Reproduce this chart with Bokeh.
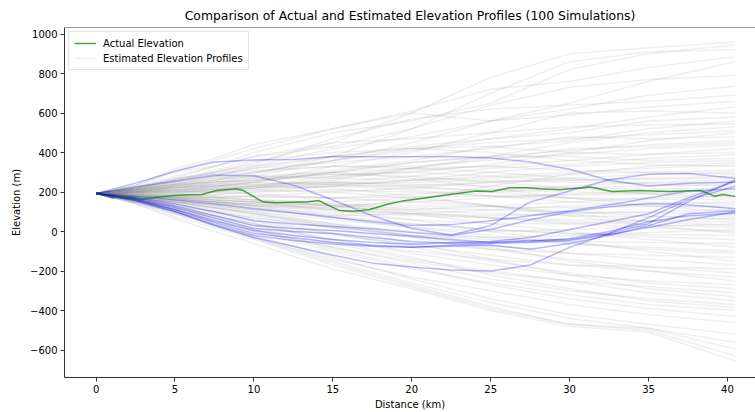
from bokeh.plotting import figure
from bokeh.models import Range1d, FixedTicker, Legend, LegendItem, Span
from bokeh.embed import file_html
from bokeh.resources import INLINE

# ---------------- data ----------------
# distance grid (km) of the estimated profiles
sim_x = [0, 2.5, 5, 7.5, 10, 15, 20, 25, 30, 35, 40.5]
# estimated elevation profiles (m), upper group
sims_upper = [
    [192, 215, 250, 300, 350, 450, 600, 780, 900, 930, 960],
    [192, 220, 270, 330, 400, 500, 560, 650, 820, 900, 945],
    [192, 205, 230, 260, 290, 380, 520, 700, 860, 910, 920],
    [192, 230, 310, 360, 420, 520, 610, 720, 760, 830, 885],
    [192, 210, 240, 280, 330, 420, 480, 560, 650, 760, 860],
    [192, 225, 280, 330, 380, 430, 520, 640, 730, 770, 790],
    [192, 200, 220, 250, 280, 360, 450, 560, 620, 690, 735],
    [192, 215, 260, 300, 340, 470, 570, 620, 640, 660, 690],
    [192, 235, 320, 370, 440, 520, 600, 560, 590, 630, 660],
    [192, 210, 240, 270, 300, 360, 410, 470, 520, 580, 630],
    [192, 200, 210, 230, 250, 330, 400, 500, 600, 610, 600],
    [192, 220, 265, 300, 330, 380, 430, 470, 500, 560, 580],
    [192, 205, 220, 240, 270, 310, 360, 430, 460, 520, 560],
    [192, 235, 300, 330, 380, 450, 470, 500, 530, 540, 545],
    [192, 200, 200, 215, 230, 260, 320, 380, 450, 500, 530],
    [192, 215, 250, 280, 300, 360, 420, 450, 470, 490, 510],
    [192, 190, 195, 210, 230, 280, 300, 340, 400, 460, 500],
    [192, 225, 270, 290, 320, 350, 380, 420, 480, 470, 480],
    [192, 210, 225, 230, 250, 300, 350, 380, 410, 440, 460],
    [192, 200, 230, 260, 300, 330, 330, 360, 420, 430, 450],
    [192, 215, 240, 250, 260, 280, 320, 370, 390, 420, 440],
    [192, 185, 190, 200, 220, 270, 310, 330, 360, 390, 420],
    [192, 220, 260, 310, 360, 400, 420, 430, 400, 390, 400],
    [192, 205, 220, 230, 240, 250, 280, 320, 340, 370, 390],
    [192, 195, 205, 225, 250, 300, 350, 380, 380, 360, 370],
    [192, 210, 240, 270, 280, 270, 260, 300, 330, 350, 360],
    [192, 180, 175, 185, 200, 230, 260, 280, 300, 320, 340],
    [192, 220, 250, 280, 320, 380, 420, 400, 360, 340, 330],
    [192, 170, 150, 140, 130, 120, 160, 230, 290, 330, 350],
]
# estimated elevation profiles (m), middle group
sims_middle = [
    [192, 200, 210, 215, 220, 240, 260, 270, 290, 300, 310],
    [192, 185, 175, 170, 180, 200, 220, 250, 270, 290, 300],
    [192, 215, 235, 250, 260, 300, 320, 330, 310, 300, 290],
    [192, 200, 195, 200, 210, 230, 230, 250, 260, 270, 280],
    [192, 210, 230, 250, 270, 290, 300, 280, 260, 265, 270],
    [192, 180, 170, 175, 180, 170, 190, 210, 230, 250, 260],
    [192, 205, 215, 225, 230, 240, 250, 260, 250, 245, 250],
    [192, 190, 180, 170, 160, 150, 170, 200, 220, 230, 240],
    [192, 220, 260, 290, 310, 330, 320, 300, 270, 240, 230],
    [192, 195, 200, 210, 220, 250, 240, 230, 220, 215, 220],
    [192, 180, 165, 150, 140, 130, 150, 170, 190, 200, 210],
    [192, 210, 230, 240, 250, 240, 220, 210, 200, 195, 200],
    [192, 195, 190, 180, 175, 170, 175, 180, 185, 190, 190],
    [192, 175, 160, 150, 140, 120, 110, 130, 150, 170, 180],
    [192, 205, 225, 240, 260, 290, 280, 250, 220, 190, 170],
    [192, 190, 185, 190, 200, 210, 200, 180, 170, 165, 160],
    [192, 170, 150, 130, 110, 80, 90, 110, 130, 140, 150],
    [192, 210, 220, 230, 240, 250, 230, 200, 170, 150, 140],
    [192, 185, 175, 160, 150, 140, 130, 125, 120, 125, 130],
    [192, 200, 210, 215, 220, 230, 210, 180, 150, 130, 120],
    [192, 175, 160, 150, 140, 110, 90, 80, 90, 100, 110],
    [192, 215, 240, 260, 280, 300, 270, 220, 170, 130, 100],
    [192, 180, 170, 160, 150, 130, 120, 110, 100, 95, 90],
    [192, 190, 185, 175, 160, 140, 110, 90, 80, 75, 80],
    [192, 175, 155, 140, 120, 90, 60, 40, 40, 55, 70],
    [192, 200, 205, 200, 190, 170, 150, 130, 100, 80, 60],
    [192, 180, 165, 150, 130, 100, 80, 70, 60, 55, 50],
    [192, 170, 140, 120, 100, 60, 20, 0, 10, 25, 40],
    [192, 195, 200, 205, 210, 200, 170, 130, 90, 50, 30],
    [192, 185, 170, 150, 130, 110, 90, 70, 50, 35, 20],
    [192, 160, 130, 100, 70, 20, -20, -30, -20, -5, 10],
    [192, 180, 170, 160, 150, 130, 100, 70, 40, 20, 0],
]
# estimated elevation profiles (m), lower group
sims_lower = [
    [192, 200, 210, 220, 230, 220, 180, 130, 80, 30, -10],
    [192, 175, 150, 130, 110, 70, 40, 10, -10, -15, -20],
    [192, 185, 170, 150, 130, 80, 40, 10, -10, -25, -40],
    [192, 165, 130, 100, 70, 20, -20, -40, -50, -55, -60],
    [192, 190, 180, 170, 160, 130, 90, 40, 0, -40, -80],
    [192, 170, 150, 120, 90, 40, 0, -30, -60, -80, -100],
    [192, 180, 165, 145, 120, 70, 20, -20, -60, -90, -110],
    [192, 160, 120, 80, 40, -20, -60, -90, -110, -120, -130],
    [192, 185, 175, 160, 150, 110, 60, 0, -50, -100, -150],
    [192, 170, 140, 110, 80, 30, -20, -70, -110, -140, -170],
    [192, 155, 110, 70, 30, -40, -100, -140, -170, -180, -190],
    [192, 175, 150, 120, 90, 30, -30, -90, -140, -180, -210],
    [192, 165, 130, 90, 50, -10, -70, -120, -170, -200, -230],
    [192, 180, 160, 130, 100, 40, -20, -80, -150, -200, -250],
    [192, 160, 120, 80, 40, -40, -110, -170, -220, -250, -270],
    [192, 170, 140, 100, 60, -10, -80, -150, -210, -260, -290],
    [192, 150, 100, 50, 0, -80, -150, -210, -250, -280, -310],
    [192, 175, 150, 120, 90, 20, -60, -140, -220, -290, -330],
    [192, 160, 120, 70, 20, -60, -140, -200, -250, -310, -350],
    [192, 155, 110, 60, 10, -80, -160, -240, -300, -340, -370],
    [192, 165, 125, 80, 40, -50, -130, -220, -290, -350, -385],
    [192, 150, 100, 50, 0, -100, -190, -260, -320, -370, -400],
    [192, 160, 110, 60, 10, -90, -180, -270, -340, -390, -430],
    [192, 145, 90, 30, -30, -140, -230, -300, -370, -420, -460],
    [192, 155, 100, 40, -20, -130, -240, -340, -420, -470, -520],
    [192, 150, 95, 35, -30, -150, -260, -360, -440, -490, -560],
    [192, 140, 75, 20, -40, -170, -280, -390, -470, -490, -595],
    [192, 145, 90, 30, -35, -160, -270, -380, -470, -500, -630],
    [192, 140, 65, 0, -60, -190, -290, -400, -480, -510, -655],
]
# highlighted estimated profiles (m) on a finer distance grid (km)
hl_x = [0, 2.5, 5, 7.5, 10, 12.5, 15, 17.5, 20, 22.5, 25, 27.5, 30, 32.5, 35, 37.5, 40.5]
sims_highlight = [
    [192, 245, 305, 352, 362, 365, 380, 378, 378, 380, 372, 352, 315, 260, 230, 245, 250],
    [192, 225, 255, 285, 282, 235, 160, 80, 15, -18, 30, 150, 205, 262, 290, 294, 270],
    [192, 178, 160, 140, 115, 95, 72, 50, 30, 35, 55, 80, 105, 135, 170, 205, 217],
    [192, 172, 140, 100, 55, 38, 25, 14, -5, -20, 10, 60, 100, 125, 142, 135, 115],
    [192, 168, 130, 80, 30, 15, 5, -10, -25, -40, -55, -50, -35, 0, 50, 80, 93],
    [192, 165, 122, 68, 15, 0, -10, -30, -50, -60, -55, -45, -40, -10, 40, 150, 262],
    [192, 160, 112, 55, 5, -20, -40, -55, -65, -55, -50, -30, 10, 50, 90, 170, 255],
    [192, 163, 110, 45, -10, -32, -55, -70, -80, -75, -70, -90, -60, -20, 30, 90, 105],
    [192, 155, 100, 35, -20, -45, -63, -75, -80, -70, -60, -55, -45, -15, 20, 60, 100],
    [192, 158, 102, 30, -30, -75, -120, -160, -180, -195, -200, -170, -80, -10, 70, 160, 230],
]
# actual elevation profile
actual_x = [0, 0.46, 1.1, 1.3, 1.94, 2.8, 3.84, 4.9, 5.95, 6.7, 7.64, 8.9, 9.3, 10.6, 11.4,
            12.7, 13.3, 14.1, 14.8, 15.4, 16.3, 17.3, 18.4, 19.4, 20.5, 21.6, 23, 24.1, 25.1,
            26.2, 27.3, 28.1, 29.4, 31.3, 32.7, 34.4, 36.3, 38.3, 39.2, 39.7, 40.5]
actual_y = [192, 183, 169, 178, 174, 162, 174, 183, 186, 188, 208, 217, 208, 149, 146,
            149, 149, 157, 130, 107, 103, 110, 137, 154, 166, 179, 194, 205, 203,
            222, 222, 217, 211, 225, 203, 208, 203, 208, 179, 188, 178]

x_ticks = [0, 5, 10, 15, 20, 25, 30, 35, 40]
y_ticks = [-600, -400, -200, 0, 200, 400, 600, 800, 1000]

title_text = "Comparison of Actual and Estimated Elevation Profiles (100 Simulations)"
FONT = "DejaVu Sans"

# ---------------- figure ----------------
p = figure(width=755, height=412, output_backend="svg", toolbar_location=None,
           x_range=Range1d(-2.0, 41.78), y_range=Range1d(-739, 1033),
           min_border_left=64, min_border_right=0, min_border_top=27, min_border_bottom=35)
p.background_fill_color = "white"
p.border_fill_color = "white"
p.outline_line_color = None
p.xgrid.visible = False
p.ygrid.visible = False

p.title.text = title_text
p.title.text_font = FONT
p.title.text_font_size = "12.4px"
p.title.text_font_style = "normal"
p.title.text_color = "black"
p.title.align = "center"
p.title.offset = 6

gray_all = sims_upper + sims_middle + sims_lower
r_gray = p.multi_line(xs=[sim_x] * len(gray_all), ys=gray_all,
                      line_color="gray", line_alpha=0.13, line_width=1.5)
p.multi_line(xs=[hl_x] * len(sims_highlight), ys=sims_highlight,
             line_color="blue", line_alpha=0.28, line_width=1.5)
r_act = p.line(actual_x, actual_y, line_color="green", line_alpha=0.7, line_width=1.5)

# top spine
p.add_layout(Span(location=1033, dimension="width", line_color="#333333", line_width=1))

for ax in (p.xaxis[0], p.yaxis[0]):
    ax.axis_line_color = "#333333"
    ax.major_tick_line_color = "#333333"
    ax.major_tick_out = 4
    ax.major_tick_in = 0
    ax.minor_tick_line_color = None
    ax.major_label_text_font = FONT
    ax.major_label_text_font_size = "10px"
    ax.major_label_text_color = "black"
    ax.axis_label_text_font = FONT
    ax.axis_label_text_font_size = "10px"
    ax.axis_label_text_font_style = "normal"
    ax.axis_label_text_color = "black"

p.xaxis.ticker = FixedTicker(ticks=x_ticks)
p.yaxis.ticker = FixedTicker(ticks=y_ticks)
p.yaxis.major_label_overrides = {t: ("\u2212" + str(-t) if t < 0 else str(t)) for t in y_ticks}
p.xaxis.major_label_standoff = 3
p.yaxis.major_label_standoff = 3
p.xaxis.axis_label = "Distance (km)"
p.yaxis.axis_label = "Elevation (m)"
p.xaxis.axis_label_standoff = 3
p.yaxis.axis_label_standoff = 5

legend = Legend(items=[LegendItem(label="Actual Elevation", renderers=[r_act]),
                       LegendItem(label="Estimated Elevation Profiles", renderers=[r_gray])],
                location="top_left")
legend.label_text_font = FONT
legend.label_text_font_size = "10px"
legend.label_text_color = "black"
legend.label_height = 12
legend.glyph_height = 12
legend.glyph_width = 22
legend.label_standoff = 7
legend.spacing = 3
legend.padding = 5
legend.margin = 4
legend.border_line_color = "#cccccc"
legend.background_fill_alpha = 0.8
p.add_layout(legend)

open("out.html", "w").write(file_html(p, INLINE))
